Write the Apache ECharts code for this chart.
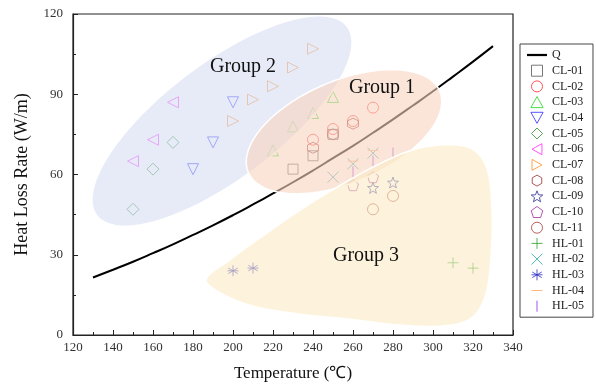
<!DOCTYPE html>
<html>
<head>
<meta charset="utf-8">
<script src="https://cdn.jsdelivr.net/npm/echarts@6/dist/echarts.min.js"></script>
<style>
  html, body { margin: 0; padding: 0; background: #fff; }
  #main { width: 596px; height: 387px; }
</style>
</head>
<body>
<div id="main"></div>
<script>
// Q curve
var qTemp = [130, 140, 150, 160, 170, 180, 190, 200, 210, 220, 230, 240, 250, 260, 270, 280, 290, 300, 310, 320, 330];
var qRate = [21.5, 24.4, 27.4, 30.6, 33.9, 37.4, 41.0, 44.8, 48.8, 52.9, 57.1, 61.5, 66.1, 70.7, 75.6, 80.6, 85.8, 91.1, 96.6, 102.2, 108];

// measured points [temperature, heat loss rate]
var cl01 = [[230, 62], [240, 67], [250, 75]];
var cl02 = [[240, 73], [250, 77], [260, 80], [270, 85]];
var cl03 = [[220, 69], [230, 78], [240, 83], [250, 89]];
var cl04 = [[180, 62], [190, 72], [200, 87]];
var cl05 = [[150, 47], [160, 62], [170, 72]];
var cl06 = [[150, 65], [160, 73], [170, 87]];
var cl07 = [[200, 80], [210, 88], [220, 93], [230, 100], [240, 107]];
var cl08 = [[240, 70], [250, 75], [260, 79]];
var cl09 = [[270, 55], [280, 57]];
var cl10 = [[260, 56], [270, 59]];
var cl11 = [[270, 47], [280, 52]];
var hl01 = [[310, 27], [320, 25]];
var hl02 = [[250, 59], [260, 64], [270, 68]];
var hl03 = [[200, 24], [210, 25]];
var hl04 = [[260, 65], [270, 69]];
var hl05 = [[260, 61], [270, 65], [280, 68]];

// group regions (data coords)
var group1Center = [255.5, 76];
var group2Center = [194.5, 80];
var group3Outline = [[186.5, 20.7], [198.5, 28.1], [213.5, 36.3], [233.5, 46.7], [248.5, 53.7], [268.5, 62.2],
  [288.5, 68.9], [306, 71.1], [319.5, 69.6], [327, 62.2], [329.5, 47.4], [329, 28.9], [326, 14.1],
  [318.5, 5.9], [303.5, 3.3], [283.5, 3.7], [258.5, 5.9], [233.5, 7.8], [212, 10.4], [196, 14.8]];
var groupLabels = [['Group 1', 274.5, 92.6], ['Group 2', 205, 100.4], ['Group 3', 266.5, 29.6]];

var serif = '"Liberation Serif", "Times New Roman", serif';

var P = {
  square: 'path://M0,0 L10,0 L10,10 L0,10 Z',
  diamond: 'path://M5,0 L10,5 L5,10 L0,5 Z',
  up: 'path://M5,0 L10,9 L0,9 Z',
  down: 'path://M0,0 L10,0 L5,9 Z',
  left: 'path://M0,5 L9,0 L9,10 Z',
  right: 'path://M0,0 L9,5 L0,10 Z',
  hex: 'path://M5,0 L9.33,2.5 L9.33,7.5 L5,10 L0.67,7.5 L0.67,2.5 Z',
  star: 'path://M5,0 L6.23,3.3 L9.76,3.45 L7,5.65 L7.94,9.05 L5,7.1 L2.06,9.05 L3,5.65 L0.24,3.45 L3.77,3.3 Z',
  penta: 'path://M5,0 L9.76,3.45 L7.94,9.05 L2.06,9.05 L0.24,3.45 Z',
  plus: 'path://M0,5 L10,5 M5,0 L5,10',
  cross: 'path://M0,0 L10,10 M10,0 L0,10',
  aster: 'path://M5,0 L5,10 M0.7,2.5 L9.3,7.5 M9.3,2.5 L0.7,7.5 M0,5 L10,5',
  dash: 'path://M0,0 M10,10 M0,5 L10,5',
  bar: 'path://M0,0 M10,10 M5,0 L5,10'
};

function pts(name, data, symbol, color, size) {
  return {
    name: name, type: 'scatter', data: data, symbol: symbol, symbolSize: size || 11, z: 2,
    itemStyle: { color: 'transparent', borderColor: color, borderWidth: 1 }
  };
}

function ellipse(rx, ry, angle, fill) {
  return function (params, api) {
    var c = api.coord([api.value(0), api.value(1)]);
    var a = angle * Math.PI / 180, p = [];
    for (var i = 0; i < 90; i++) {
      var t = i / 90 * Math.PI * 2;
      var x = rx * Math.cos(t), y = ry * Math.sin(t);
      p.push([c[0] + x * Math.cos(a) + y * Math.sin(a), c[1] - x * Math.sin(a) + y * Math.cos(a)]);
    }
    return { type: 'polygon', shape: { points: p }, style: { fill: fill, stroke: '#fff', lineWidth: 1.5 } };
  };
}

var names = ['CL-01', 'CL-02', 'CL-03', 'CL-04', 'CL-05', 'CL-06', 'CL-07', 'CL-08', 'CL-09', 'CL-10', 'CL-11',
  'HL-01', 'HL-02', 'HL-03', 'HL-04', 'HL-05'];

var option = {
  animation: false,
  grid: { left: 73, top: 14, right: 83, bottom: 49, show: true, borderColor: '#222', borderWidth: 1.2 },
  legend: {
    orient: 'vertical', left: 520, top: 44, padding: [5, 9, 5, 7],
    itemWidth: 20, itemHeight: 11, itemGap: 3.7,
    borderColor: '#444', borderWidth: 1,
    textStyle: { fontFamily: serif, fontSize: 12, lineHeight: 12, color: '#222' },
    itemStyle: { borderWidth: 1 },
    data: [{ name: 'Q', icon: 'path://M0,0 L18,0 L18,2 L0,2 Z', itemStyle: { color: '#000', borderWidth: 0 } }].concat(names)
  },
  xAxis: {
    type: 'value', min: 120, max: 340, interval: 20,
    name: 'Temperature (℃)', nameLocation: 'middle', nameGap: 30,
    nameTextStyle: { fontFamily: serif, fontSize: 17, color: '#111' },
    axisLine: { lineStyle: { color: '#222', width: 1.2 } },
    axisTick: { inside: true, length: 5, lineStyle: { color: '#222' } },
    minorTick: { show: true, splitNumber: 2, length: 3, lineStyle: { color: '#222' } },
    splitLine: { show: false },
    axisLabel: { fontFamily: serif, fontSize: 13, color: '#333', margin: 6 }
  },
  yAxis: {
    type: 'value', min: 0, max: 120, interval: 30,
    name: 'Heat Loss Rate (W/m)', nameLocation: 'middle', nameGap: 42,
    nameTextStyle: { fontFamily: serif, fontSize: 18, color: '#111' },
    axisLine: { show: true, lineStyle: { color: '#222', width: 1.2 } },
    axisTick: { show: true, inside: true, length: 5, lineStyle: { color: '#222' } },
    minorTick: { show: true, splitNumber: 2, length: 3, lineStyle: { color: '#222' } },
    splitLine: { show: false },
    axisLabel: { fontFamily: serif, fontSize: 13, color: '#333', margin: 10 }
  },
  series: [
    {
      name: 'Q', type: 'line', smooth: true, symbol: 'none', z: 2,
      data: qTemp.map(function (t, i) { return [t, qRate[i]]; }),
      lineStyle: { color: '#000', width: 2 }, itemStyle: { color: '#000' }
    },
    pts('CL-01', cl01, P.square, '#555555', 10),
    pts('CL-02', cl02, 'circle', '#ff2a2a'),
    pts('CL-03', cl03, P.up, '#1fd81f'),
    pts('CL-04', cl04, P.down, '#2a2aff'),
    pts('CL-05', cl05, P.diamond, '#2f8f2f', 12),
    pts('CL-06', cl06, P.left, '#ff2aff'),
    pts('CL-07', cl07, P.right, '#ff8c26'),
    pts('CL-08', cl08, P.hex, '#993030'),
    pts('CL-09', cl09, P.star, '#2a2a99'),
    pts('CL-10', cl10, P.penta, '#a02aa0'),
    pts('CL-11', cl11, 'circle', '#a83a3a'),
    pts('HL-01', hl01, P.plus, '#2aa02a'),
    pts('HL-02', hl02, P.cross, '#2aa5a5'),
    pts('HL-03', hl03, P.aster, '#2a2ac0'),
    pts('HL-04', hl04, P.dash, '#ffa860'),
    pts('HL-05', hl05, P.bar, '#8a2aee'),
    {
      type: 'custom', z: 5, silent: true, data: [group2Center],
      renderItem: ellipse(157, 58, 37, 'rgba(213,222,242,0.6)')
    },
    {
      type: 'custom', z: 5, silent: true, data: [group1Center],
      renderItem: ellipse(104, 51, 23, 'rgba(248,212,192,0.6)')
    },
    {
      type: 'custom', z: 5, silent: true, data: [0],
      renderItem: function (params, api) {
        var p = group3Outline.map(function (d) { return api.coord(d); });
        return { type: 'polygon', shape: { points: p, smooth: 0.35 },
          style: { fill: 'rgba(252,235,197,0.6)', stroke: '#fff', lineWidth: 1.5 } };
      }
    },
    {
      type: 'custom', z: 8, silent: true, data: groupLabels.map(function (g) { return [g[1], g[2]]; }),
      renderItem: function (params, api) {
        var c = api.coord([api.value(0), api.value(1)]);
        return { type: 'text', x: c[0], y: c[1],
          style: { text: groupLabels[params.dataIndex][0], font: '20px ' + serif, fill: '#111',
            align: 'center', verticalAlign: 'middle', textAlign: 'center', textVerticalAlign: 'middle' } };
      }
    }
  ]
};

var myChart = echarts.init(document.getElementById('main'));
myChart.setOption(option);
</script>
</body>
</html>
